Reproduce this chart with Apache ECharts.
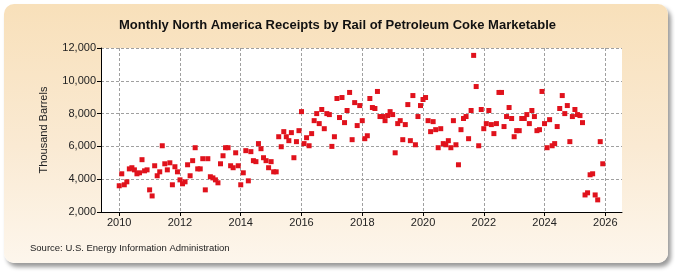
<!DOCTYPE html>
<html>
<head>
<meta charset="utf-8">
<script src="https://cdn.jsdelivr.net/npm/echarts@6/dist/echarts.min.js"></script>
<style>
  html, body { margin: 0; padding: 0; background: #fff; }
  #panel {
    position: absolute; left: 4px; top: 4px; width: 664px; height: 259px;
    border-radius: 10px;
    background: linear-gradient(to bottom, #F8E0BA 0%, #FAEAD3 55%, #FDF6EC 100%);
    box-shadow: 3px 4px 4px #9a9a9a;
  }
  #chart { position: absolute; left: 0; top: 0; width: 675px; height: 275px; }
</style>
</head>
<body>
<div id="panel"></div>
<div id="chart"></div>
<script>
// monthly receipts, thousand barrels, Jan..Dec of each year
const years = [2010, 2011, 2012, 2013, 2014, 2015, 2016, 2017, 2018, 2019, 2020, 2021, 2022, 2023, 2024, 2025]
const v2010 = [3600, 4330, 3660, 3840, 4630, 4700, 4570, 4330, 4390, 5190, 4510, 4570]
const v2011 = [3350, 2980, 4820, 4210, 4450, 6040, 4940, 4570, 5000, 3660, 4760, 4450]
const v2012 = [3960, 3720, 3840, 4880, 4210, 5130, 5920, 4630, 4630, 5250, 3350, 5250]
const v2013 = [4150, 4080, 3960, 3780, 4940, 5430, 5920, 5920, 4820, 4700, 5610, 4820]
const v2014 = [3660, 4390, 5740, 3900, 5680, 5130, 5070, 6170, 5860, 5310, 5130, 4700]
const v2015 = [5070, 4450, 4450, 6590, 5980, 6900, 6590, 6350, 6840, 5310, 6290, 6960]
const v2016 = [8120, 6170, 6530, 6040, 6780, 7570, 8000, 7390, 8250, 7080, 8000, 7940]
const v2017 = [6000, 6590, 8920, 7760, 8980, 7450, 8190, 9290, 6410, 8670, 7270, 8490]
const v2018 = [7570, 6470, 6650, 8920, 8370, 8310, 9350, 7820, 7820, 7570, 7880, 8120]
const v2019 = [7940, 5610, 7390, 7570, 6410, 7330, 8550, 6350, 9100, 6100, 7820, 8490]
const v2020 = [8860, 8980, 7570, 6900, 7510, 7020, 5920, 7080, 6170, 6100, 6350, 5920]
const v2021 = [7570, 6100, 4880, 7020, 7700, 7820, 6470, 8190, 11550, 9650, 6040, 8250]
const v2022 = [7080, 7390, 8190, 7330, 6780, 7390, 9290, 9290, 7210, 7820, 8370, 7700]
const v2023 = [6590, 6960, 6960, 7700, 7700, 7940, 7390, 8190, 7820, 6960, 7020, 9350]
const v2024 = [7390, 5920, 7630, 6040, 6170, 7210, 8310, 9100, 8000, 8490, 6290, 7820]
const v2025 = [8250, 7940, 7880, 7450, 3040, 3170, 4270, 4330, 3040, 2740, 6290, 4940]
const yearValues = [v2010, v2011, v2012, v2013, v2014, v2015, v2016, v2017, v2018, v2019, v2020, v2021, v2022, v2023, v2024, v2025]

const xTicks = [2010, 2012, 2014, 2016, 2018, 2020, 2022, 2024, 2026]

const points = []
years.forEach((y, i) => {
  yearValues[i].forEach((v, m) => points.push([y + m / 12, v]))
})

const chart = echarts.init(document.getElementById('chart'))

const option = {
  backgroundColor: 'transparent',
  title: {
    text: 'Monthly North America Receipts by Rail of Petroleum Coke Marketable',
    left: 'center',
    top: 14,
    textStyle: { fontFamily: 'Liberation Sans', fontSize: 13, fontWeight: 'bold', color: '#111' }
  },
  grid: {
    left: 101, right: 53, top: 48, bottom: 63,
    show: true, backgroundColor: '#fff', borderWidth: 0
  },
  xAxis: {
    type: 'value',
    min: 2009.4,
    max: 2026.55,
    axisLine: { show: true, lineStyle: { color: '#000', width: 1 } },
    axisTick: { show: true, customValues: xTicks, length: 4, lineStyle: { color: '#000' } },
    axisLabel: {
      customValues: xTicks, color: '#222', fontFamily: 'Liberation Sans', fontSize: 11, margin: 5,
      formatter: v => String(v)
    },
    splitLine: { show: true, lineStyle: { color: '#a0a0a0', type: [3, 2] } }
  },
  yAxis: {
    type: 'value',
    min: 2000,
    max: 12000,
    interval: 2000,
    name: 'Thousand Barrels',
    nameLocation: 'middle',
    nameGap: 52,
    nameTextStyle: { fontFamily: 'Liberation Sans', fontSize: 11, color: '#222' },
    axisLine: { show: true, lineStyle: { color: '#000', width: 1 } },
    axisTick: { show: true, length: 4, lineStyle: { color: '#000' } },
    axisLabel: {
      color: '#222', fontFamily: 'Liberation Sans', fontSize: 11, margin: 5,
      formatter: v => v.toLocaleString('en-US')
    },
    splitLine: { show: true, lineStyle: { color: '#a0a0a0', type: [3, 2] } }
  },
  graphic: [
    {
      type: 'text', left: 30, top: 243,
      style: { text: 'Source: U.S. Energy Information Administration', font: '9.5px "Liberation Sans"', fill: '#222' }
    }
  ],
  series: [
    {
      type: 'scatter',
      symbol: 'rect',
      symbolSize: 5,
      data: points,
      itemStyle: { color: '#E0121C', opacity: 1 },
      silent: true
    }
  ]
}

chart.setOption(option)
</script>
</body>
</html>
